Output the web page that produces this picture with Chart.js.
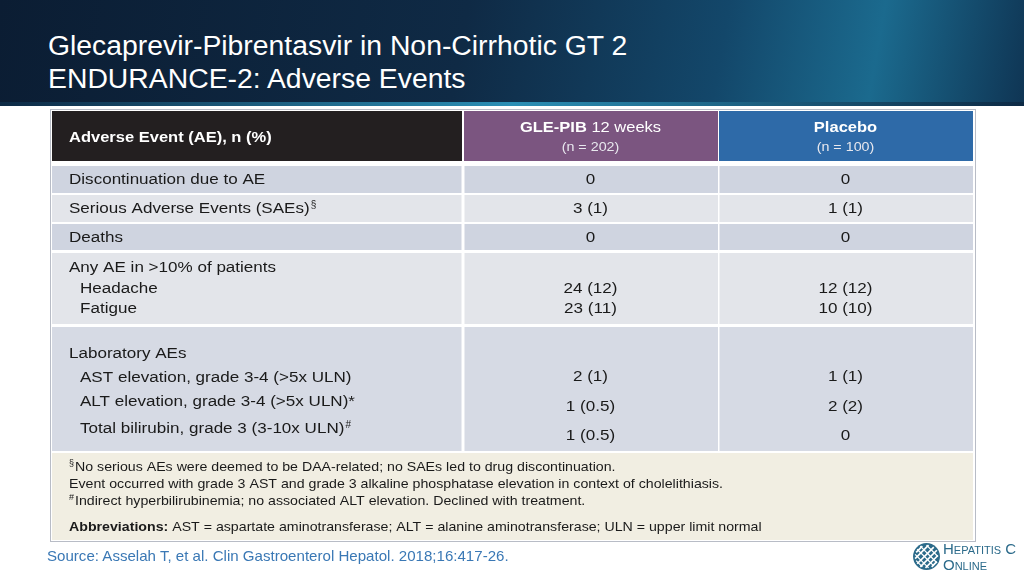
<!DOCTYPE html>
<html>
<head>
<meta charset="utf-8">
<script src="https://cdn.jsdelivr.net/npm/chart.js@4.4.0/dist/chart.umd.min.js"></script>
<style>
  html, body { margin: 0; padding: 0; width: 1024px; height: 576px; overflow: hidden; background: #fff; font-family: "Liberation Sans", Arial, sans-serif; }
  #banner { position: absolute; left: 0; top: 0; width: 1024px; height: 106px;
    background: linear-gradient(100deg, #0b1d33 0%, #0f2a45 45%, #13476a 70%, #1b6a8e 85%, #0f3554 100%); }
  #banner:after { content: ""; position: absolute; left: 0; right: 0; bottom: 0; height: 4px; background: linear-gradient(90deg, #0d2a45, #2b8fb5, #0d2a45); }
  #title { position: absolute; left: 48px; top: 30px; color: #fff; font-size: 27px; line-height: 33px; transform: scaleX(1.05); transform-origin: left top; white-space: nowrap; }
  #wrap { position: absolute; left: 0; top: 0; width: 1024px; height: 576px; }
  #source { position: absolute; left: 47px; top: 548px; color: #3a78b5; font-size: 14.5px; transform: scaleX(1.04); transform-origin: left top; white-space: nowrap; }
  #logo { position: absolute; left: 912px; top: 541px; width: 110px; height: 32px; }
  #logo .t { position: absolute; left: 31px; color: #2b6a8a; font-size: 15px; font-variant: small-caps; line-height: 15px; }
</style>
</head>
<body>
<div id="banner"></div>
<div id="title">Glecaprevir-Pibrentasvir in Non-Cirrhotic GT 2<br>ENDURANCE-2: Adverse Events</div>
<div id="wrap"><canvas id="tableChart" width="1024" height="576"></canvas></div>
<div id="source">Source: Asselah T, et al. Clin Gastroenterol Hepatol. 2018;16:417-26.</div>
<div id="logo">
  <svg width="29" height="29" viewBox="0 0 28 28" style="position:absolute;left:0;top:1px">
    <circle cx="14" cy="14" r="13" fill="#2b6a8a"/>
    <path d="M4 10 L10 4 M3 16 L16 3 M5 21 L21 5 M8 24 L24 8 M13 25 L25 13 M19 24 L24 19" stroke="#fff" stroke-width="1.6"/>
    <path d="M10 24 L4 18 M16 25 L3 12 M21 23 L5 7 M24 20 L8 4 M25 14 L14 3" stroke="#fff" stroke-width="1.2"/>
  </svg>
  <div class="t" style="top:0">Hepatitis C</div>
  <div class="t" style="top:16px">Online</div>
</div>
<script>
// Tabela de eventos adversos
const headerLabel = 'Adverse Event (AE), n (%)';
const groupNames = ['GLE-PIB', 'Placebo'];
const groupSuffix = [' 12 weeks', ''];
const groupN = ['(n = 202)', '(n = 100)'];

const rowLabels = [
  ['Discontinuation due to AE'],
  ['Serious Adverse Events (SAEs)§'],
  ['Deaths'],
  ['Any AE in >10% of patients', '  Headache', '  Fatigue'],
  ['Laboratory AEs', '  AST elevation, grade 3-4 (>5x ULN)', '  ALT elevation, grade 3-4 (>5x ULN)*', '  Total bilirubin, grade 3 (3-10x ULN)#'],
];
const gleValues = [['0'], ['3 (1)'], ['0'], ['24 (12)', '23 (11)'], ['2 (1)', '1 (0.5)', '1 (0.5)']];
const placeboValues = [['0'], ['1 (1)'], ['0'], ['12 (12)', '10 (10)'], ['1 (1)', '2 (2)', '0']];

const footnotes = [
  '§ No serious AEs were deemed to be DAA-related; no SAEs led to drug discontinuation.',
  'Event occurred with grade 3 AST and grade 3 alkaline phosphatase elevation in context of cholelithiasis.',
  '#Indirect hyperbilirubinemia; no associated ALT elevation. Declined with treatment.',
];
const abbrevLabel = 'Abbreviations:';
const abbrevText = ' AST = aspartate aminotransferase; ALT = alanine aminotransferase; ULN = upper limit normal';

// layout (pixels in scale units)
const colEdges = [52, 463, 718, 973];
const rowBands = [[166, 193], [195, 222], [224, 250], [253, 324], [327, 451]];
const rowFills = ['#cfd4e0', '#e3e5ea', '#cfd4e0', '#e3e5ea', '#d6dae4'];
const labelY = [[180], [209], [238], [268, 289, 309], [354, 378, 402, 429]];
const valueY = [[180], [209], [238], [289, 309], [377, 407, 436]];
const SX = 1.1;

const tablePlugin = {
  id: 'tablePlugin',
  afterDraw(chart) {
    const { ctx } = chart;
    const x = (v) => chart.scales.x.getPixelForValue(v);
    const y = (v) => chart.scales.y.getPixelForValue(v);
    const FONT = '"Liberation Sans", Arial, sans-serif';
    // texto esticado na horizontal, como no slide original
    const text = (t, px, py, align = 'left', sx = SX) => {
      const w = ctx.measureText(t).width * sx;
      const start = align === 'center' ? px - w / 2 : px;
      ctx.save();
      ctx.textAlign = 'left';
      ctx.translate(start, py);
      ctx.scale(sx, 1);
      ctx.fillText(t, 0, 0);
      ctx.restore();
      return w;
    };
    ctx.save();
    ctx.textBaseline = 'middle';

    // frame
    ctx.fillStyle = '#ffffff';
    ctx.fillRect(x(50), y(109), x(975) - x(50), y(541) - y(109));
    ctx.strokeStyle = '#b8bcc6';
    ctx.lineWidth = 1;
    ctx.strokeRect(x(50) + 0.5, y(109) + 0.5, x(975) - x(50), y(541) - y(109));

    // header
    const headFills = ['#231f20', '#7b5580', '#2e6aa8'];
    for (let c = 0; c < 3; c += 1) {
      ctx.fillStyle = headFills[c];
      ctx.fillRect(x(colEdges[c]) + (c ? 1 : 0), y(111), x(colEdges[c + 1]) - x(colEdges[c]) - 1, y(161) - y(111));
    }
    ctx.fillStyle = '#fff';
    ctx.font = 'bold 15px ' + FONT;
    text(headerLabel, x(69), y(138), 'left', 1.1);
    for (let g = 0; g < 2; g += 1) {
      const cx = (x(colEdges[g + 1]) + x(colEdges[g + 2])) / 2;
      ctx.font = 'bold 15px ' + FONT;
      const w1 = ctx.measureText(groupNames[g]).width * SX;
      ctx.font = '15px ' + FONT;
      const w2 = ctx.measureText(groupSuffix[g]).width * SX;
      const sx = cx - (w1 + w2) / 2;
      ctx.font = 'bold 15px ' + FONT;
      text(groupNames[g], sx, y(128));
      ctx.font = '15px ' + FONT;
      text(groupSuffix[g], sx + w1, y(128));
      ctx.font = '13px ' + FONT;
      ctx.fillStyle = '#e8e8ee';
      text(groupN[g], cx, y(147), 'center');
      ctx.fillStyle = '#fff';
    }

    // body rows
    const c1 = (x(colEdges[1]) + x(colEdges[2])) / 2;
    const c2 = (x(colEdges[2]) + x(colEdges[3])) / 2;
    rowBands.forEach((band, r) => {
      for (let c = 0; c < 3; c += 1) {
        ctx.fillStyle = rowFills[r];
        ctx.fillRect(x(colEdges[c]) + (c ? 1.5 : 0), y(band[0]), x(colEdges[c + 1]) - x(colEdges[c]) - 1.5, y(band[1]) - y(band[0]));
      }
      ctx.fillStyle = '#1a1a1a';
      rowLabels[r].forEach((t, i) => {
        const indent = t.startsWith('  ') ? 11 : 0;
        let txt = t.trim();
        const last = txt.slice(-1);
        const sup = last === '§' || last === '#' ? last : '';
        if (sup) txt = txt.slice(0, -1);
        ctx.font = '15.5px ' + FONT;
        const w = text(txt, x(69 + indent), y(labelY[r][i]));
        if (sup) {
          ctx.font = '10px ' + FONT;
          text(sup, x(69 + indent) + w + 1, y(labelY[r][i] - 4), 'left', 1);
        }
      });
      ctx.font = '15.5px ' + FONT;
      gleValues[r].forEach((v, i) => text(v, c1, y(valueY[r][i]), 'center'));
      placeboValues[r].forEach((v, i) => text(v, c2, y(valueY[r][i]), 'center'));
    });

    // footnotes
    ctx.fillStyle = '#f1eee2';
    ctx.fillRect(x(52), y(453), x(973) - x(52), y(540) - y(453));
    ctx.fillStyle = '#1a1a1a';
    const fnY = [467, 484, 501];
    footnotes.forEach((t, i) => {
      const mark = /^[§#]/.test(t) ? t[0] : '';
      let tx = x(69);
      if (mark) {
        ctx.font = '9px ' + FONT;
        tx += text(mark, tx, y(fnY[i] - 3), 'left', 1) + 1;
      }
      ctx.font = '13.5px ' + FONT;
      text(mark ? t.slice(1).trimStart() : t, tx, y(fnY[i]), 'left', 1.05);
    });
    ctx.font = 'bold 13.5px ' + FONT;
    const aw = text(abbrevLabel, x(69), y(527), 'left', 1.05);
    ctx.font = '13.5px ' + FONT;
    text(abbrevText, x(69) + aw, y(527), 'left', 1.05);
    ctx.restore();
  },
};

new Chart(document.getElementById('tableChart').getContext('2d'), {
  type: 'scatter',
  data: { datasets: [{ data: [], pointRadius: 0 }] },
  options: {
    responsive: false,
    animation: false,
    layout: { padding: 0 },
    plugins: { legend: { display: false }, tooltip: { enabled: false } },
    scales: {
      x: { type: 'linear', min: 0, max: 1024, display: false },
      y: { type: 'linear', min: 0, max: 576, reverse: true, display: false },
    },
  },
  plugins: [tablePlugin],
});
</script>
</body>
</html>
